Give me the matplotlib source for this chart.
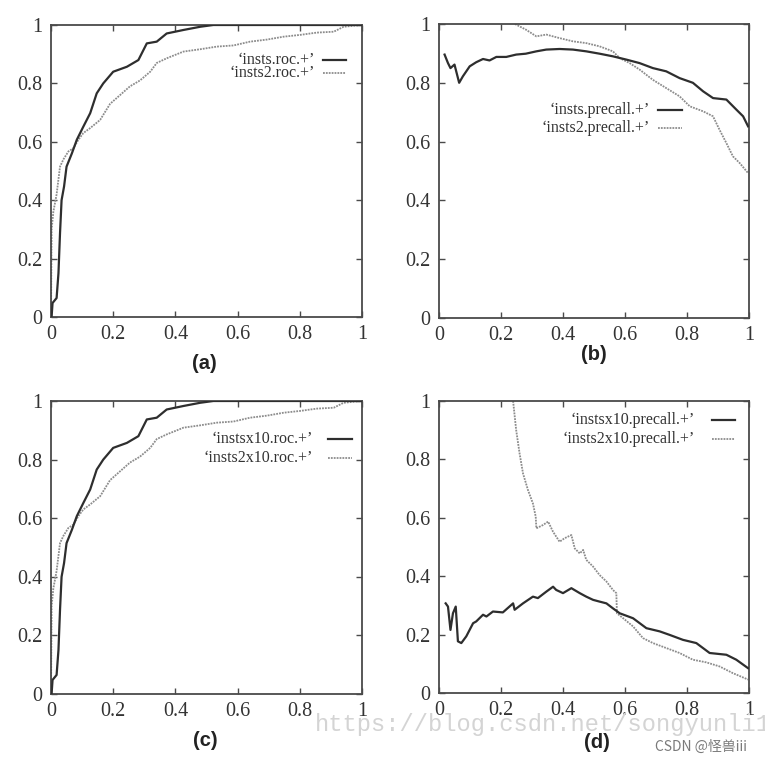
import matplotlib
matplotlib.use("Agg")
import matplotlib.pyplot as plt
from matplotlib.lines import Line2D

W, H = 765, 762

# ---------------- data ----------------
# (a) ROC curves
roc1_x = [0.0, 0.002, 0.005, 0.018, 0.024, 0.029, 0.034, 0.042, 0.05, 0.067, 0.083, 0.104, 0.126,
          0.147, 0.168, 0.20, 0.244, 0.281, 0.308, 0.34, 0.372, 0.426, 0.48, 0.522, 0.6, 0.8, 1.0]
roc1_y = [0.0, 0.002, 0.048, 0.065, 0.15, 0.287, 0.40, 0.447, 0.515, 0.56, 0.607, 0.652, 0.698,
          0.766, 0.80, 0.84, 0.857, 0.88, 0.937, 0.943, 0.971, 0.983, 0.994, 1.0, 1.0, 1.0, 1.0]
roc2_x = [0.0, 0.002, 0.0075, 0.018, 0.029, 0.04, 0.056, 0.072, 0.088, 0.104, 0.126, 0.158, 0.19,
          0.222, 0.254, 0.286, 0.319, 0.34, 0.372, 0.426, 0.48, 0.533, 0.587, 0.64, 0.694, 0.748,
          0.80, 0.855, 0.909, 0.941, 1.0]
roc2_y = [0.0, 0.30, 0.36, 0.42, 0.515, 0.54, 0.567, 0.578, 0.607, 0.63, 0.647, 0.675, 0.73,
          0.76, 0.79, 0.81, 0.84, 0.87, 0.886, 0.909, 0.917, 0.926, 0.93, 0.943, 0.95, 0.96,
          0.966, 0.974, 0.977, 0.994, 1.0]

# (b) precision-recall curves
pr1_x = [0.018, 0.029, 0.037, 0.05, 0.065, 0.077, 0.099, 0.12, 0.142, 0.163, 0.185, 0.217, 0.249,
         0.28, 0.314, 0.346, 0.389, 0.432, 0.475, 0.518, 0.561, 0.604, 0.647, 0.69, 0.733, 0.776,
         0.819, 0.852, 0.884, 0.927, 0.959, 0.981, 0.997]
pr1_y = [0.896, 0.867, 0.85, 0.862, 0.80, 0.822, 0.856, 0.87, 0.881, 0.876, 0.888, 0.888, 0.896,
         0.899, 0.907, 0.913, 0.915, 0.913, 0.907, 0.899, 0.89, 0.879, 0.867, 0.85, 0.839, 0.816,
         0.80, 0.771, 0.748, 0.743, 0.709, 0.686, 0.652]
pr2_x = [0.245, 0.28, 0.314, 0.346, 0.389, 0.432, 0.475, 0.518, 0.561, 0.583, 0.615, 0.647, 0.69,
         0.733, 0.776, 0.809, 0.852, 0.884, 0.905, 0.927, 0.948, 0.97, 0.997]
pr2_y = [1.0, 0.981, 0.958, 0.964, 0.952, 0.941, 0.935, 0.924, 0.907, 0.884, 0.867, 0.845, 0.81,
         0.782, 0.754, 0.72, 0.703, 0.686, 0.64, 0.595, 0.55, 0.527, 0.493]

# (c) ROC curves for the x10 sets (same shape as (a))
roc10_1_x = roc1_x
roc10_1_y = roc1_y
roc10_2_x = roc2_x
roc10_2_y = roc2_y

# (d) precision-recall curves for the x10 sets
pr10_1_x = [0.0215, 0.029, 0.037, 0.045, 0.054, 0.061, 0.072, 0.088, 0.11, 0.12, 0.142, 0.153,
            0.174, 0.206, 0.239, 0.244, 0.271, 0.303, 0.319, 0.346, 0.368, 0.378, 0.40, 0.427,
            0.454, 0.475, 0.497, 0.518, 0.54, 0.561, 0.583, 0.626, 0.669, 0.712, 0.744, 0.787,
            0.83, 0.873, 0.927, 0.959, 0.997]
pr10_1_y = [0.307, 0.296, 0.216, 0.273, 0.296, 0.177, 0.171, 0.194, 0.239, 0.245, 0.268, 0.262,
            0.279, 0.276, 0.307, 0.285, 0.307, 0.33, 0.325, 0.347, 0.364, 0.353, 0.342, 0.359,
            0.342, 0.33, 0.319, 0.313, 0.307, 0.29, 0.273, 0.256, 0.222, 0.211, 0.199, 0.182,
            0.171, 0.137, 0.131, 0.114, 0.085]
pr10_2_x = [0.239, 0.249, 0.26, 0.271, 0.287, 0.303, 0.312, 0.314, 0.335, 0.352, 0.368, 0.389,
            0.405, 0.427, 0.438, 0.454, 0.465, 0.475, 0.497, 0.518, 0.54, 0.561, 0.572, 0.574,
            0.594, 0.626, 0.658, 0.69, 0.733, 0.776, 0.819, 0.862, 0.905, 0.948, 0.997]
pr10_2_y = [1.0, 0.90, 0.82, 0.752, 0.695, 0.649, 0.604, 0.564, 0.575, 0.587, 0.552, 0.518,
            0.53, 0.541, 0.495, 0.478, 0.49, 0.456, 0.433, 0.404, 0.382, 0.353, 0.342, 0.273,
            0.256, 0.228, 0.188, 0.171, 0.154, 0.137, 0.114, 0.105, 0.091, 0.068, 0.046]

ticks = [0, 0.2, 0.4, 0.6, 0.8, 1.0]
tick_labels = ["0", "0.2", "0.4", "0.6", "0.8", "1"]

panel_labels = ["(a)", "(b)", "(c)", "(d)"]
legend_names = [
    ("\u2018insts.roc.+\u2019", "\u2018insts2.roc.+\u2019"),
    ("\u2018insts.precall.+\u2019", "\u2018insts2.precall.+\u2019"),
    ("\u2018instsx10.roc.+\u2019", "\u2018insts2x10.roc.+\u2019"),
    ("\u2018instsx10.precall.+\u2019", "\u2018insts2x10.precall.+\u2019"),
]
series = [
    ((roc1_x, roc1_y), (roc2_x, roc2_y)),
    ((pr1_x, pr1_y), (pr2_x, pr2_y)),
    ((roc10_1_x, roc10_1_y), (roc10_2_x, roc10_2_y)),
    ((pr10_1_x, pr10_1_y), (pr10_2_x, pr10_2_y)),
]

# ---------------- layout (pixel boxes: left, top, right, bottom) ----------------
boxes = [(51, 25, 362, 317), (439, 24, 749, 318), (51, 401, 362, 694), (439, 401, 749, 693)]
label_pos = [(204, 363), (594, 355), (205, 740), (597, 742)]
# legend: text right edge x, y row1, y row2, line x0, x1
legend_pos = [(315, 60, 73, 323, 346), (650, 110, 128, 658, 682),
              (313, 439, 458, 328, 352), (695, 420, 439, 712, 735)]

SOLID = "#2e2e2e"
DOT = "#8c8c8c"
FRAME = "#4a4a4a"

fig = plt.figure(figsize=(W / 100, H / 100), dpi=100)
fig.patch.set_facecolor("white")


def fx(px):
    return px / W


def fy(py):
    return 1 - py / H


for i in range(4):
    l, t, r, b = boxes[i]
    ax = fig.add_axes([fx(l), fy(b), (r - l) / W, (b - t) / H])
    (x1, y1), (x2, y2) = series[i]
    ax.plot(x2, y2, color=DOT, lw=1.3, linestyle=(0, (1, 0.6)), zorder=2)
    ax.plot(x1, y1, color=SOLID, lw=1.6, zorder=3)
    ax.set_xlim(0, 1)
    ax.set_ylim(0, 1)
    ax.set_xticks(ticks)
    ax.set_yticks(ticks)
    ax.set_xticklabels(tick_labels, family="Liberation Serif", fontsize=14.5, color="#333333")
    ax.set_yticklabels(tick_labels, family="Liberation Serif", fontsize=14.5, color="#333333")
    ax.tick_params(direction="in", length=4, width=1.0, color=FRAME,
                   top=True, right=True, pad=6)
    for s in ax.spines.values():
        s.set_color(FRAME)
        s.set_linewidth(1.3)

    # legend
    tx, ty1, ty2, lx0, lx1 = legend_pos[i]
    fig.text(fx(tx), fy(ty1), legend_names[i][0], ha="right", va="center",
             family="Liberation Serif", fontsize=11.5, color="#333333")
    fig.text(fx(tx), fy(ty2), legend_names[i][1], ha="right", va="center",
             family="Liberation Serif", fontsize=11.5, color="#333333")
    fig.add_artist(Line2D([fx(lx0), fx(lx1)], [fy(ty1), fy(ty1)], color=SOLID, lw=1.6))
    fig.add_artist(Line2D([fx(lx0), fx(lx1)], [fy(ty2), fy(ty2)], color=DOT, lw=1.3,
                          linestyle=(0, (1, 0.6))))

    # panel label
    px, py = label_pos[i]
    fig.text(fx(px), fy(py), panel_labels[i], ha="center", va="center",
             family="Liberation Sans", fontweight="bold", fontsize=14.5, color="#222222")

# watermarks
fig.text(fx(315), fy(725), "https://blog.csdn.net/songyunli1", ha="left", va="center",
         family="Liberation Mono", fontsize=17.1, color="#d4d4d4", zorder=10)
fig.text(fx(655), fy(747), "CSDN @怪兽iii", ha="left", va="center",
         family=["Noto Sans CJK SC", "DejaVu Sans"], fontsize=10, color="#7a7a7a", zorder=10)

fig.savefig("out.png", dpi=100, facecolor="white")
